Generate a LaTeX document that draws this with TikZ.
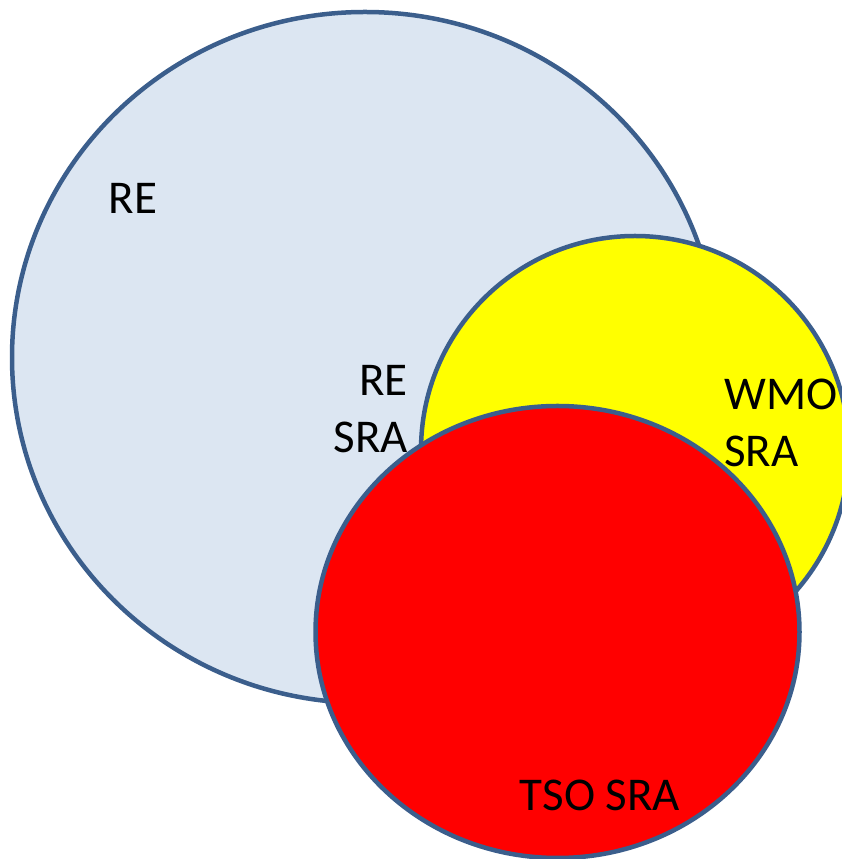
\documentclass[tikz,border=0pt]{standalone}
\usepackage{fontspec}
\setmainfont{Carlito}
\usetikzlibrary{shapes.geometric,positioning}
\definecolor{setline}{HTML}{3B5E8C}
\definecolor{refill}{HTML}{DCE6F2}
\definecolor{wmofill}{HTML}{FFFF00}
\definecolor{tsofill}{HTML}{FF0000}

\begin{document}
\begin{tikzpicture}
		[x=1pt,y=1pt,
		set/.style={ellipse,draw=setline,line width=4.5pt,inner sep=0pt},
		tag/.style={font=\fontsize{47}{57}\selectfont,inner sep=0pt,text=black}]
		\useasboundingbox (0,0) rectangle (842,859);
		\clip (0,0) rectangle (842,859);
		\node [set,fill=refill,minimum width=706,minimum height=691] (re) at (365,501.5) {};
		\node [set,fill=wmofill,minimum width=428,minimum height=428] (wmo) at (635,409) {};
		\node [set,fill=tsofill,minimum width=484,minimum height=452] (tso) at (557.5,227) {};

		\node [tag] (reT) at (133,661) {RE};
		\node [tag,align=right,anchor=east] (reSRA) at (408,450) {RE\\SRA};
		\node [tag,align=left,anchor=west] (wmoSRA) at (724,436) {WMO\\SRA};
		\node [tag] (tsoSRA) at (600,64) {TSO SRA};
	\end{tikzpicture}
\end{document}
